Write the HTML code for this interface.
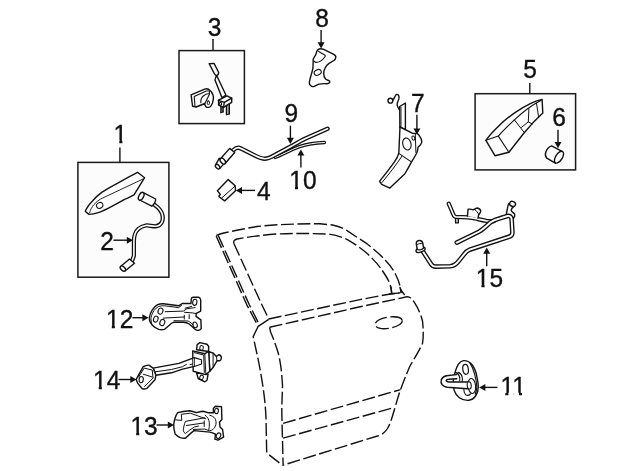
<!DOCTYPE html>
<html><head><meta charset="utf-8">
<style>
html,body{margin:0;padding:0;background:#fff;}
body{width:640px;height:471px;overflow:hidden;font-family:"Liberation Sans",sans-serif;}
svg{display:block;will-change:transform;}
.l{fill:none;stroke:#111;stroke-width:1.4;stroke-linecap:round;stroke-linejoin:round;}
.w{fill:#fdfdfd;stroke:#111;stroke-width:1.4;stroke-linecap:round;stroke-linejoin:round;}
.d{fill:none;stroke:#111;stroke-width:1.4;stroke-dasharray:13 3.5;stroke-linejoin:round;}
.b{fill:#fcfcfc;stroke:#1a1a1a;stroke-width:1.5;}
.a{fill:none;stroke:#111;stroke-width:1.4;}
.h{fill:#111;stroke:none;}
text{font-family:"Liberation Sans",sans-serif;font-size:24.5px;fill:#111;stroke:#111;stroke-width:.35px;text-anchor:middle;}
.to{fill:none;stroke:#111;stroke-linecap:round;stroke-linejoin:round;}
.ti{fill:none;stroke:#fff;stroke-linecap:round;stroke-linejoin:round;}
</style></head><body>
<svg width="640" height="471" viewBox="0 0 640 471">
<!-- BOXES -->
<g id="boxes">
<rect class="b" x="77.9" y="162.4" width="91" height="114.8"/>
<rect class="b" x="179" y="50.6" width="65.4" height="73"/>
<rect class="b" x="475.1" y="93.7" width="100.5" height="76.2"/>
</g>
<!-- LABELS -->
<g id="labels">
<g transform="translate(120.4,142.7) scale(1,1.05)"><text x="0" y="0">1</text><rect x="-5.95" y="-2.58" width="4.84" height="4.6" fill="#fff"/><rect x="1.96" y="-2.58" width="4.65" height="4.6" fill="#fff"/></g>
<g transform="translate(107,249.6) scale(1,1.05)"><text x="0" y="0">2</text></g>
<g transform="translate(214.5,36.2) scale(1,1.05)"><text x="0" y="0">3</text></g>
<g transform="translate(263.8,199.8) scale(1,1.05)"><text x="0" y="0">4</text></g>
<g transform="translate(530,78.2) scale(1,1.05)"><text x="0" y="0">5</text></g>
<g transform="translate(559,126.2) scale(1,1.05)"><text x="0" y="0">6</text></g>
<g transform="translate(417.8,111.5) scale(1,1.05)"><text x="0" y="0">7</text></g>
<g transform="translate(322.1,26.7) scale(1,1.05)"><text x="0" y="0">8</text></g>
<g transform="translate(291.3,122.2) scale(1,1.05)"><text x="0" y="0">9</text></g>
<g transform="translate(302.9,189.2) scale(1,1.05)"><text x="0" y="0">10</text><rect x="-12.76" y="-2.58" width="4.84" height="4.6" fill="#fff"/><rect x="-4.85" y="-2.58" width="4.65" height="4.6" fill="#fff"/></g>
<g transform="translate(513.2,395.4) scale(1,1.05)"><text x="0" y="0">11</text><rect x="-12.76" y="-2.58" width="4.84" height="4.6" fill="#fff"/><rect x="-4.85" y="-2.58" width="4.65" height="4.6" fill="#fff"/><rect x="0.87" y="-2.58" width="4.84" height="4.6" fill="#fff"/><rect x="8.78" y="-2.58" width="4.65" height="4.6" fill="#fff"/></g>
<g transform="translate(119.7,327.8) scale(1,1.05)"><text x="0" y="0">12</text><rect x="-12.76" y="-2.58" width="4.84" height="4.6" fill="#fff"/><rect x="-4.85" y="-2.58" width="4.65" height="4.6" fill="#fff"/></g>
<g transform="translate(144.1,434.6) scale(1,1.05)"><text x="0" y="0">13</text><rect x="-12.76" y="-2.58" width="4.84" height="4.6" fill="#fff"/><rect x="-4.85" y="-2.58" width="4.65" height="4.6" fill="#fff"/></g>
<g transform="translate(106.7,388.6) scale(1,1.05)"><text x="0" y="0">14</text><rect x="-12.76" y="-2.58" width="4.84" height="4.6" fill="#fff"/><rect x="-4.85" y="-2.58" width="4.65" height="4.6" fill="#fff"/></g>
<g transform="translate(489.4,287) scale(1,1.05)"><text x="0" y="0">15</text><rect x="-12.76" y="-2.58" width="4.84" height="4.6" fill="#fff"/><rect x="-4.85" y="-2.58" width="4.65" height="4.6" fill="#fff"/></g>
</g>
<!-- ARROWS -->
<g id="arrows">
<path class="a" d="M119.9 147.4V162"/>
<path class="a" d="M213 39V50.6"/>
<path class="a" d="M529.8 83V94"/>
<path class="a" d="M113.4 240.2H128"/><path class="h" d="M133 240.2l-6.2 -3.5v7.0z"/>
<path class="a" d="M255 190.4H241"/><path class="h" d="M235.8 190.4l6.2 -3.5v7.0z"/>
<path class="a" d="M558 129.7V143"/><path class="h" d="M558 148.3l-3.5 -6.2h7.0z"/>
<path class="a" d="M416.9 114.7V130"/><path class="h" d="M416.9 134.6l-3.5 -6.2h7.0z"/>
<path class="a" d="M321.1 30V43"/><path class="h" d="M321.1 48.4l-3.5 -6.2h7.0z"/>
<path class="a" d="M290.4 125.7V139"/><path class="h" d="M290.4 144l-3.5 -6.2h7.0z"/>
<path class="a" d="M300.9 167.4V154"/><path class="h" d="M300.9 149.4l-3.5 6.2h7.0z"/>
<path class="a" d="M497.5 387.4H485"/><path class="h" d="M479.2 387.4l6.2 -3.5v7.0z"/>
<path class="a" d="M132.5 317.7H144"/><path class="h" d="M148.6 317.7l-6.2 -3.5v7.0z"/>
<path class="a" d="M156.5 425H168"/><path class="h" d="M174 425l-6.2 -3.5v7.0z"/>
<path class="a" d="M118.5 379.5H131"/><path class="h" d="M136.5 379.5l-6.2 -3.5v7.0z"/>
<path class="a" d="M486.7 266.3V253"/><path class="h" d="M486.7 247.6l-3.5 6.2h7.0z"/>
</g>
<!-- DOOR -->
<g id="door">
<path class="d" d="M216.2 235.5 C219 233.5 240 229.5 257 226.5 C275 224.5 295 223.7 320 223.8 L332.5 225 C340 226.5 345 229 347.8 231.2 C355 236 362 240.5 366.9 243.7 C375 250 381 255.5 386 260.9 C390 265 393.5 270 395.5 274.2 C398 279 399.8 284 400.3 287.6 L401.3 292.4"/>
<path class="d" d="M234 243.7 C233 241 234.5 239.8 237 239 C250 236.8 262 235.2 276.4 234 C295 233.2 310 233.3 328.7 234.1 C337 235 343 237.5 347.8 239.8 C355 244 362 249 366.9 253.2 C374 260 379 265.5 382.2 270.4 C386 276 388.5 280 389.8 283.8 C391 287 391.5 290 391.7 293.3"/>

<!-- window frame left: double line + inner -->
<path class="d" d="M216.2 236 L246.8 304.8 L258.2 326.3"/>
<path class="d" d="M218.2 235.4 L249.3 304.8 L259.5 325"/>
<path class="d" d="M234 243.7 L261 303 L268.7 318.9"/>
<!-- corner connectors -->
<path class="d" d="M258.2 326.3 L268.7 319.3"/>
<!-- belt lines -->
<path class="d" d="M268.7 319 L360 299.6 L391.7 293.7 L399.4 293"/>
<path class="d" d="M269.6 327.3 L360 306.8 L407 296.8 C410 296.5 412 299 414.7 302.9 C418 308 421 315 422.5 321 C423.5 330 423.5 337 422.5 343.5 C419 351 414 359 410 366 C406 375 403 383 400 391 C397 400 395 408 392.5 416 C391 421 389.5 425 387.5 428.5 C385 432.5 382 435 377.5 436 L282.5 465.3"/>
<!-- inner left edge -->
<path class="d" d="M269.6 327.3 C270 329 270.3 330.5 270.6 332 C274 340 276.5 347 278.2 353 C280.5 362 281.8 372 282.5 385.6 C282.3 395 281.8 403 281.8 411.9 L283.1 464.4"/>
<!-- outer left edge -->
<path class="d" d="M258.2 326.3 L253.2 336.6 C256 350 259 362 261.2 375.8 C264 392 265.5 405 266 418.4 L266.7 452.9 L282.5 465.3"/>
<!-- mouldings -->
<path class="d" d="M283.1 423.3 L400.6 389.6"/>
<path class="d" d="M283.1 438.1 L393 407.9"/>
<!-- handle -->
<ellipse class="d" cx="388.7" cy="322.7" rx="13.7" ry="5.6" transform="rotate(-9 388.7 322.7)"/>
<!-- notch -->
<path class="l" d="M401 290 L404.3 294.6"/>
<path class="l" d="M391 287 L391.7 293.5 M400 287.5 L401.2 292.6 M389.5 294 L399.8 292.9"/>
</g>

<!-- PART 1 handle -->
<g id="p1">
<path class="w" d="M137.5 172.3 L144.6 177.7 L134 194.9 C128 198 126 199 124.6 199.4 C120 202 116 204.2 111.8 206.4 C107 209 103 211 99.1 212.4 C95 213.8 92 214.4 88.9 214.4 L85.4 211.5 C85.5 210.5 85.8 209.8 86.4 208.9 C88 205.8 90 203.3 92.7 200.7 C95.5 197.5 98.5 194.8 101.7 192.4 C107 189 112 186 118.2 182.8 C125 179 131 175.6 137.5 172.3 Z"/>
<path class="l" style="stroke-width:.9" d="M89.6 212.8 C90.5 209.5 92 206.8 94 204.5 C96 202.3 98 200.5 100.4 199.1 L142.8 179.1"/>
<ellipse class="l" style="stroke-width:1" cx="99.7" cy="205.4" rx="3.3" ry="2.8" transform="rotate(-25 99.7 205.4)"/>
</g>
<!-- PART 2 cable -->
<g id="p2">
<path class="to" stroke-width="4.2" d="M154 204.4 C158.5 207.5 162 211.5 162.6 215.9 C163 218.5 162.8 220.5 161.8 222.3 C160.5 224.8 158.5 226.1 155.4 226.3 C152 226.5 149 225 145.9 225.5 C143 226 140.5 227 138.7 228.7 C136.5 230.5 135.3 232.5 134.7 235 C134.1 237 133.9 239 133.9 241.4 L133.9 255.7 L132.2 260.6"/>
<path class="ti" stroke-width="1.6" d="M154 204.4 C158.5 207.5 162 211.5 162.6 215.9 C163 218.5 162.8 220.5 161.8 222.3 C160.5 224.8 158.5 226.1 155.4 226.3 C152 226.5 149 225 145.9 225.5 C143 226 140.5 227 138.7 228.7 C136.5 230.5 135.3 232.5 134.7 235 C134.1 237 133.9 239 133.9 241.4 L133.9 255.7 L132.2 260.6"/>
<path class="w" d="M142.8 192.4 L155.6 199 C156 201 154 205 151.8 206.2 L139.6 200 Z"/>
<ellipse class="w" cx="141.2" cy="196.3" rx="2.3" ry="4.2" transform="rotate(27 141.2 196.3)"/>
<path class="w" d="M129.5 259 L134.5 263.2 L125.3 270.8 L120.6 266.5 Z"/>
<ellipse class="w" cx="122.9" cy="268.6" rx="1.9" ry="3.2" transform="rotate(-48 122.9 268.6)"/>
</g>

<!-- PART 3 -->
<g id="p3">
<!-- rod -->
<path class="w" d="M216.8 75.8 L225.9 95 L222 97.8 L215 80 C215.2 78.3 215.8 77 216.8 75.8 Z"/>
<path class="w" d="M209.2 63.6 L214 63.4 L218.7 72.5 C218.6 74 217.8 75 216.8 75.8 C215.5 75.3 214.6 74.3 214 73 Z"/>
<!-- block -->
<path class="w" d="M218.6 100.2 L227 95.8 L231.7 98.1 L231.7 102.4 L223.5 107.3 L218.6 105.1 Z"/>
<path class="l" d="M218.4 100.4 L224.3 102.4 L231.7 98.1 M224.3 102.4 L223.5 107.3"/>
<rect class="l" style="stroke-width:1" x="219.7" y="102.6" width="1.8" height="2.5"/>
<path class="l" style="stroke-width:1.6" d="M221 106.5 V112.6 M223 107.2 V112 M226.6 105.6 V114.6 M229.2 104.2 V114"/>
<path class="l" style="stroke-width:1" d="M221 112.6 L223 112 M226.6 114.6 L229.2 114"/>
<!-- clip -->
<path class="w" d="M191.1 94.9 L204.7 89.1 C206.5 88.6 208 88.8 209 89.5 C211 91 212.3 93 213 94.9 C213.6 96.5 213.6 98 213.3 99.6 C213 102 212.2 104.2 211 105.9 C210.3 106.9 209.6 107.4 208.7 107.4 C207.5 107.5 206.6 107.3 205.9 106.7 C205.2 105.8 204.8 104.7 204.75 103.5 L196.2 107 L192.6 106.3 Z"/>
<path class="l" style="stroke-width:1.1" d="M195 105.9 L194.2 96.5 L206.3 91 C207.5 90.6 208.5 90.6 209.4 91 L209.4 94.2 L206.3 100.8 L204.75 103.5"/>
<path class="l" style="stroke-width:1.1" d="M200.8 102.75 C200.6 101 200.9 99.5 201.6 98 C202.4 96.6 203.4 95.6 204.75 94.9 C206 94.3 207.3 93.9 208.7 93.8"/>
<rect class="l" style="stroke-width:1" x="207.3" y="101" width="2.1" height="3.5" rx=".8"/>
</g>

<!-- PART 8 -->
<g id="p8">
<path class="w" d="M319.2 49 C320.5 48.6 322 48.7 323.7 49.3 L333.3 54.1 C335.2 55 336 56 335.8 57.3 C335.6 58.8 335 59.8 333.9 60.5 C332.5 61.5 331 62.2 329.4 63.1 C327.3 64.5 325.8 66.2 325 68.2 C324.2 69.8 323.7 71.5 323.7 73.3 C323.6 75.5 324.3 77.5 325.6 79 C326.6 80 328 80.4 329.2 80.7 C330 81.3 330 82.2 329.4 82.8 C328.8 83.5 328 83.7 326.9 83.7 C324.5 83.5 321.8 83.5 319.2 84.1 C317.3 84.7 315.7 85.7 314.1 86.4 C312.8 86.8 311.7 86.6 310.9 85.8 C309.8 85 309.2 84 309.3 82.8 C309.6 80.5 310.2 78.2 310.9 75.8 C311.7 73.2 312.5 70.8 312.9 68.2 C313.3 65.2 313 62 313.2 59.2 C313.7 57.8 314.6 56.6 315.4 55.4 C316 54.2 316.3 53 316.7 51.6 C317.2 50.3 318 49.4 319.2 49 Z"/>
<path class="l" style="stroke-width:1.1" d="M318.6 51.6 L324.3 54.8 C325.3 55.4 325.5 56 325 56.7 C323.8 58.4 322.3 60 320.5 61.1 C319 62 317.5 62.4 316 62.4 C315.2 62.2 314.6 61.8 314.1 61.1"/>
<ellipse class="l" style="stroke-width:1.1" cx="317.7" cy="72.4" rx="3.7" ry="2.7" transform="rotate(-25 317.7 72.4)"/>
</g>

<!-- PARTS 9/10 rods -->
<g id="p9">
<path class="to" stroke-width="3.4" d="M324.4 142.5 C320 142.6 315.5 143 311.25 143.75 C307 144.5 303 145.5 298.75 146.9 C294.5 148.5 290.5 150.4 286.25 152.5 C282.5 154.3 279 156 275 157.5"/>
<path class="ti" stroke-width="1" d="M324.4 142.5 C320 142.6 315.5 143 311.25 143.75 C307 144.5 303 145.5 298.75 146.9 C294.5 148.5 290.5 150.4 286.25 152.5 C282.5 154.3 279 156 275 157.5"/>
<path class="to" stroke-width="4.4" d="M327.5 128.75 L305 138.75 C300.5 141 296 143.6 291.25 146.25 L271.25 156.9 C269.3 157.9 267.2 158.6 265 158.75 C262 158.8 259 157.6 255 155.6 L245 150.5 C242.5 149.2 240.5 148 238.5 147.6 C236.5 147.5 235 148.5 233.3 150.2"/>
<path class="ti" stroke-width="1.7" d="M327.5 128.75 L305 138.75 C300.5 141 296 143.6 291.25 146.25 L271.25 156.9 C269.3 157.9 267.2 158.6 265 158.75 C262 158.8 259 157.6 255 155.6 L245 150.5 C242.5 149.2 240.5 148 238.5 147.6 C236.5 147.5 235 148.5 233.3 150.2"/>
<path class="w" d="M219.2 158.3 L224.4 163.4 L219.6 168.6 L215.6 164.8 Z"/>
<ellipse class="w" cx="217.6" cy="166.6" rx="1.7" ry="2.7" transform="rotate(-44 217.6 166.6)"/>
<path class="w" d="M229.7 148.4 L234.7 152.45 L225.3 163.3 L220.3 158.95 Z"/>
<ellipse class="w" cx="222.8" cy="161.1" rx="2.1" ry="3.4" transform="rotate(-42 222.8 161.1)"/>
</g>
<!-- PART 4 -->
<g id="p4">
<path class="w" d="M228.2 179.6 L235.2 185.7 L235.5 190.75 L224.6 200.9 L218.8 196.5 L220.3 194.4 L217.4 190.75 Z"/>
<path class="l" style="stroke-width:1" d="M234.7 186.4 L221.7 198"/>
</g>

<!-- PART 7 -->
<g id="p7">
<path class="l" d="M392.9 100.2 C394.5 98 395.2 95 396.6 94.4 C398.3 94 399.3 96 399 98.2 C398.6 100.5 397 102.5 397.1 104.6 C397.3 106.8 398.6 108.6 399.7 110.3"/>
<circle class="w" cx="390.4" cy="100.7" r="2.4"/>
<path class="w" d="M399.7 106.5 L405.4 103 L405.4 129.5 L399.9 127.5 Z"/>
<path class="l" style="stroke-width:.9" d="M401 107 L401 127.5"/>
<path class="w" d="M400 127 L412.3 133.2 L417.3 133.6 C418.5 134.3 419.2 135.2 419.6 136.1 C420.8 137.8 421.6 139.5 421.8 141.3 C421.8 142.8 421.2 144 420.3 145 L418 147.3 C418 149.5 417.5 151.3 416.6 153.2 C415 156.3 413.3 159.2 411.4 162.1 C409.3 166.2 407 170.2 404.7 174 L389.85 188.1 L381.7 184.4 L379.5 181.4 C385 174.5 390 168 394.3 162.1 C396.3 159.3 398 156.5 398.8 153.2 Z"/>
<path class="l" style="stroke-width:1.1" d="M398.8 153.4 L410.6 161.4"/>
<path class="l" style="stroke-width:1" d="M401.9 156.3 C396 165 389 174 381.9 182.6"/>
<path class="l" style="stroke-width:1" d="M415.3 134 L415.9 152.5"/>
<ellipse class="l" style="stroke-width:1.1" cx="406.9" cy="144" rx="4.1" ry="6.1" transform="rotate(-15 406.9 144)"/>
<ellipse class="l" style="stroke-width:1" cx="413.3" cy="138.1" rx="1.4" ry="2.1" transform="rotate(-15 413.3 138.1)"/>
</g>

<!-- PART 5 -->
<g id="p5">
<path class="w" d="M485.9 140.3 C490 134.5 495 129.5 500 124.7 C505 120 510.5 115.6 516.5 111.6 C521 108.6 525.5 106 530.3 103.6 C534 101.8 538 100.4 542.1 99.4 L542.8 113 L533.1 122.6 L523.4 133.7 L508.9 152.3 L495.1 155.8 Z"/>
<path class="l" style="stroke-width:1.1" d="M485.9 140.3 L498.3 136.1 L508.9 152.3"/>
<path class="l" style="stroke-width:1.1" d="M498.3 136.1 C503.5 130.3 509 125 514.4 119.9 C518.6 116 523 112.2 527.6 108.8 C530.3 106.8 533 105 535.9 103.3 C537.7 102.2 539.5 101.2 541.4 100.2"/>
<path class="l" style="stroke-width:1" d="M514.4 119.9 L524.1 132.3"/>
<path class="l" style="stroke-width:1" d="M521.4 127.4 L528.3 121.9 L532.4 124"/>
<path class="l" style="stroke-width:1" d="M528.9 108.8 L528.3 121.9"/>
<path class="l" style="stroke-width:1" d="M536.5 103.3 L538.6 117.1"/>
</g>
<!-- PART 6 -->
<g id="p6">
<path class="w" d="M551.6 145.8 L562 151.3 L555.3 163.2 L546.8 158.2 C545.4 156.5 545 154 545.9 151.8 C547 149 549 146.6 551.6 145.8 Z"/>
<ellipse class="w" cx="559" cy="157.2" rx="3.3" ry="6.7" transform="rotate(33 559 157.2)"/>
</g>

<!-- PART 15 -->
<g id="p15">
<path class="w" d="M455.6 218 V222.9 H458.3 V218.3 Z"/>
<path class="to" stroke-width="4.2" d="M448.7 203.6 L453.6 215 C454 216.3 454.8 216.8 456 216.9 L468.1 217.4 C471 217.6 473.8 218.2 476.6 218.8 C480 219.6 483.2 220.4 486.4 220.9 L494 221.2"/>
<path class="ti" stroke-width="1.6" d="M448.7 203.6 L453.6 215 C454 216.3 454.8 216.8 456 216.9 L468.1 217.4 C471 217.6 473.8 218.2 476.6 218.8 C480 219.6 483.2 220.4 486.4 220.9 L494 221.2"/>
<path class="w" d="M467.4 216 L468.1 209.2 C469.8 208.7 471.5 209.6 473.1 209.7 C474.6 209.4 476 208 477.3 208 C479.3 208.4 480.5 209.6 480.8 211.1 C480.8 212.6 479.5 213.6 478.7 214.6 L478 218.2"/>
<path class="l" style="stroke-width:1" d="M474.8 209.6 C476.6 210.8 478 212.6 478.7 214.6"/>
<path class="w" d="M506.2 216.6 C506.2 213 507 210.5 507.5 208.3 C507.7 206.3 508.2 204.6 508.9 203.4 L513.5 206.6 C512.4 207.4 511.5 208.6 511.2 210.2 C511.5 212 513.6 212.6 514.5 213.9 C515 215.2 514.6 216.6 513.8 217.8 L512 219"/>
<ellipse class="w" cx="512.6" cy="203.9" rx="3" ry="2.5" transform="rotate(20 512.6 203.9)"/>
<path class="to" stroke-width="4.6" d="M456.8 242.6 L479.4 231.5 C483.5 229 487 225.5 490.6 222.3 C493.5 220.2 496.6 219.2 500 218.3 L507.5 216 C509.8 215.6 511.3 216.6 511.6 219 L512.4 232.2 C512.5 234.8 511.3 236.2 508.9 236.8 L469.7 249.7 C467.3 250.6 465.5 252.3 464.1 254.4 L458.4 261.4 C456.3 264.3 453.5 266.1 450 266.3 L435.5 266.6 C433.5 266.6 432.2 265.8 431.2 264.2 L422.6 251"/>
<path class="ti" stroke-width="1.9" d="M456.8 242.6 L479.4 231.5 C483.5 229 487 225.5 490.6 222.3 C493.5 220.2 496.6 219.2 500 218.3 L507.5 216 C509.8 215.6 511.3 216.6 511.6 219 L512.4 232.2 C512.5 234.8 511.3 236.2 508.9 236.8 L469.7 249.7 C467.3 250.6 465.5 252.3 464.1 254.4 L458.4 261.4 C456.3 264.3 453.5 266.1 450 266.3 L435.5 266.6 C433.5 266.6 432.2 265.8 431.2 264.2 L422.6 251"/>
<!-- connector lower-left -->
<ellipse class="w" cx="420.6" cy="249.8" rx="4.8" ry="2.2" transform="rotate(-20 420.6 249.8)"/>
<path class="w" d="M416.3 244.2 C416 242 417 240.8 419 240.5 C421 240.3 422.3 241 422.7 243 L423.6 248 C422 249.6 419 250.4 417.3 249.5 Z"/>
<path class="l" style="stroke-width:1" d="M416.6 245 C418 243.6 421 243 422.8 243.8"/>
</g>

<!-- PART 11 -->
<g id="p11">
<path class="w" d="M463.5 360.6 C466.8 360.4 469.6 361.8 471.7 364.2 C474.5 367.5 476 371.8 476.8 376.4 C477.6 379.8 478.2 383.2 478.3 386.6 C478.4 390 477.5 393.2 475.75 395.75 C474 398.4 471.5 400 468.6 400.3 C465.2 400.5 462 399.8 459.4 397.8 C457 396 455.3 393.5 454.3 390.7 C453.3 387.5 453 384 453.3 380.5 C453.6 377.3 454.3 374.2 455.4 371.3 C456.2 368.7 457.1 366.3 458.4 364.2 C459.7 362.2 461.4 360.9 463.5 360.6 Z"/>
<path class="l" style="stroke-width:1.1" d="M469.6 362.6 C472 366 473.7 370 474.7 374.3 C475.8 378.3 476.6 382.5 476.8 386.6 C476.8 389.5 476.2 392 475.2 394.3"/>
<ellipse class="l" style="stroke-width:1.2" cx="465.6" cy="369.3" rx="2.8" ry="5" transform="rotate(-8 465.6 369.3)"/>
<!-- left base rings -->
<path class="l" style="stroke-width:1.1" d="M455.5 372.6 C457.3 372.8 458.6 374.2 459.3 376 C459.8 377.6 459.9 379.4 459.7 381"/>
<path class="l" style="stroke-width:1.1" d="M458 372.4 C460 372.8 461.4 374.3 462 376.4 C462.4 378 462.5 379.8 462.3 381.6"/>
<!-- right base rings -->
<ellipse class="l" style="stroke-width:1.1" cx="471.8" cy="386" rx="3.8" ry="7.6" transform="rotate(-6 471.8 386)"/>
<path class="l" style="stroke-width:1.1" d="M463.8 389.6 C463.9 392 464.6 394 466 395 C467.6 395.8 469.2 395.2 470.4 394"/>
<!-- loop -->
<path class="w" d="M456.5 374.6 L446.5 375.7 C444 376.2 442.2 377.6 441.3 379.6 C440.8 381.6 441 383.4 442.1 384.8 C443.4 386.3 445.2 387 447.2 387.2 L467.2 388.7 C468.6 388.7 469.8 387.6 470 385.6 C470.2 383.6 469.2 382.2 467.6 382 L449.5 382 C447.6 381.8 446.2 381.2 446.2 380.4 C446.4 379.6 447.4 379.3 448.6 379.3 L456.8 378.8"/>
<ellipse class="w" style="stroke-width:1.1" cx="469.2" cy="385.4" rx="2" ry="3.6" transform="rotate(-5 469.2 385.4)"/>
</g>

<!-- PART 12 -->
<g id="p12">
<path class="w" d="M149.4 317.5 C149.8 314.8 150.8 312.2 152.3 309.9 C153.8 307.6 155.5 305.8 157.6 304.6 C159.5 303.9 161.4 303.7 163.4 303.8 L178.7 305.8 L182.2 303.5 L191 303.5 L191.3 298.8 C191.6 297.8 192.3 297.4 193.3 297.3 L198.6 297.3 C199.8 297.6 200.6 298.6 200.7 300 L200.7 311.1 L196.25 313.4 L196 316.4 L200.9 319.9 L201.2 328.7 C200.4 329.8 199.3 330.3 198 330.4 C196.9 330.3 196 329.9 195.1 329.3 L189.2 324 C187.4 322.9 185.5 322.3 183.4 322.2 L174 322.2 C172.2 322.8 170.7 323.8 169.3 325.2 L164.6 329.3 C162.7 329.9 160.7 329.9 158.75 329.3 C156.4 328.5 154.5 327.3 152.9 325.7 C151.6 324.5 150.6 323.2 150 321.6 C149.5 320.3 149.3 318.9 149.4 317.5 Z"/>
<path class="l" style="stroke-width:1" d="M151.7 324 C150.9 321 150.8 318.5 151.1 317.5 C151.6 315 152.6 312.7 154.1 310.5 C155.4 308.7 156.9 307.3 158.75 306.4 C160.6 305.8 162.6 305.7 164.6 305.8 L178.7 307.6 L181.6 305.3"/>
<ellipse class="l" style="stroke-width:1.1" cx="160.5" cy="311.1" rx="2.4" ry="3.1" transform="rotate(20 160.5 311.1)"/>
<ellipse class="l" style="stroke-width:1.1" cx="155.8" cy="319.1" rx="2.2" ry="3.1" transform="rotate(20 155.8 319.1)"/>
<ellipse class="l" style="stroke-width:1.1" cx="162.3" cy="322.6" rx="2.4" ry="3.2" transform="rotate(20 162.3 322.6)"/>
<ellipse class="l" style="stroke-width:1.1" cx="194.8" cy="302.3" rx="2.1" ry="3.1" transform="rotate(10 194.8 302.3)"/>
<ellipse class="l" style="stroke-width:1.1" cx="195.1" cy="324.9" rx="2.1" ry="2.9" transform="rotate(-20 195.1 324.9)"/>
<path class="l" style="stroke-width:1" d="M165.2 311.7 L183.4 311.1 L186.9 308.75 L195.1 307.6"/>
<path class="l" style="stroke-width:1" d="M185.1 308.2 L191.6 306.4"/>
<path class="l" style="stroke-width:1" d="M163.4 318.1 L183.9 317"/>
<path class="l" style="stroke-width:1" d="M184.3 315.2 V319.1 M189.2 314.6 V318.7"/>
<path class="l" style="stroke-width:1" d="M174 320.7 L188 321 C190.2 322 192 323.6 193.3 325.2"/>
<path class="l" style="stroke-width:1" d="M184.5 312.3 L192.7 312.9 L196 313.6"/>
</g>
<!-- PART 14 -->
<g id="p14">
<!-- arm -->
<path class="w" d="M153.1 368.1 L178.9 363.4 L194.3 357.6 L201.5 359.7 L201.5 364.1 L194.3 366.4 L182.6 369.1 L171.4 372.8 L155.9 375.2 Z"/>
<path class="l" style="stroke-width:1" d="M154.5 371.9 L171.4 369.5 L182.6 366.7 L186.4 364.4"/>
<path class="l" style="stroke-width:1" d="M190 364.6 L199.3 362.5"/>
<!-- left bracket -->
<path class="w" d="M136.2 379.4 L143.25 366.7 C145 365.6 147 365 148.9 365.1 L153.1 368.1 L155.9 375.2 L155 379.8 L147 388.3 C145.4 389 143.8 389.1 142.3 388.75 L137.6 383.1 Z"/>
<path class="l" style="stroke-width:1" d="M138.6 377 L144.2 368.1 L152.2 370 L153.1 378 L144.7 386.4"/>
<path class="l" style="stroke-width:1" d="M143.25 374.2 L152.2 377"/>
<ellipse class="l" style="stroke-width:1.1" cx="141.2" cy="379.6" rx="2.1" ry="3.1" transform="rotate(8 141.2 379.6)"/>
<!-- right block -->
<path class="w" d="M196.6 349.8 L197.1 344.8 L199.9 342.6 L207 344.3 L208.7 346.5 L208.5 351.5 Z"/>
<rect class="l" style="stroke-width:1" x="199.9" y="345.6" width="3.3" height="4.7" rx="1.3" transform="rotate(8 201.5 347.9)"/>
<path class="w" d="M196.6 373 L198.2 378.5 L204.8 381.8 L207 380.2 L208.1 374.1 Z"/>
<rect class="l" style="stroke-width:1" x="199.9" y="375.2" width="3.3" height="4.5" rx="1.3" transform="rotate(20 201.5 377.4)"/>
<path class="w" d="M208.7 351.5 L213.1 353.1 L216.4 356.4 L218.6 354.8 C220.2 355 221.2 356 221.4 357.5 C221.4 359 220.8 360.2 219.7 360.8 L217 360.8 L213.1 367.5 L209.8 371.3 Z"/>
<path class="l" style="stroke-width:1" d="M213.1 353.1 V367.5 M216.4 356.4 L217 360.8"/>
<path class="w" d="M192.7 350.9 L204.8 353.7 L208.7 351.5 L209.8 371.3 L205.9 374.6 L193.2 371.3 Z"/>
<path class="l" style="stroke-width:1" d="M204.8 353.7 L205.9 374.6"/>
<path class="l" style="stroke-width:1" d="M194.3 352.6 L203.7 355 L204.3 372.4"/>
<path class="w" style="stroke-width:1.1" d="M193 358 L194.3 357.6 L201.5 359.7 L201.5 364.1 L194.3 366.4 L193.1 366.6"/>
<path class="l" style="stroke-width:1" d="M194.3 357.6 V366.4"/>
</g>
<!-- PART 13 -->
<g id="p13">
<path class="w" d="M173.7 424.5 C174 422.2 174.5 420 175.2 417.8 C175.8 416 176.6 414.2 177.7 412.7 C181.5 411.5 185.5 410.9 189.5 410.7 C192 411 194.4 411.8 196.6 412.7 C198.6 412 200.6 411.4 202.7 411.2 C204.5 411.5 206.2 412.1 207.8 412.7 L213.4 412.7 L213.4 408.2 L215.4 406.3 L221.5 406.6 L221.9 419.4 L219.5 421.9 L220 427 L222.6 429.5 L223.6 437.2 L218 440.2 L214.9 439.2 L215.4 434.1 C213.6 433.2 211.7 432.5 209.8 432.1 L194 430.6 C191 432.8 188 435.6 185.4 438.2 C183.7 438.4 182 438.2 180.3 437.7 C178.3 436.8 176.6 435.6 175.2 434.1 C174.2 431 173.6 427.8 173.7 424.5 Z"/>
<ellipse class="l" style="stroke-width:1.1" cx="216.5" cy="411" rx="1.9" ry="2.7" transform="rotate(10 216.5 411)"/>
<ellipse class="l" style="stroke-width:1.1" cx="218.5" cy="435.7" rx="2.1" ry="2.9" transform="rotate(25 218.5 435.7)"/>
<path class="l" style="stroke-width:1" d="M175.7 419.9 L181.8 420.4 L181.3 414.3 L190.5 413.2 L205.75 418.8"/>
<path class="l" style="stroke-width:1" d="M204.7 417.8 L185.4 421.4 C184.2 424.4 183.5 427.5 183.3 430.6 C183.6 431.9 184.3 432.9 185.4 433.6 C188.2 431 191.2 428.8 194.5 427 L198.6 426"/>
<path class="l" style="stroke-width:1" d="M186.4 425.5 L204.2 422.9 M204.2 420.9 V426.5"/>
<path class="l" style="stroke-width:1" d="M205.2 415.3 C207.6 417 209 419.5 209.3 422.4 C209.5 425.2 209.3 427.8 208.8 430.1"/>
<path class="l" style="stroke-width:1" d="M209.8 415.3 C212 415.8 213.7 416.8 214.9 418.3 C216 420.2 216.3 422.3 215.9 424.5 C215.4 426.5 214.4 428.2 212.9 429.5 C212 430.2 211 430.5 209.8 430.6"/>
<path class="l" style="stroke-width:1" d="M193.5 429.5 L204.7 429 L208.8 430.6"/>
</g>
</svg>
</body></html>
